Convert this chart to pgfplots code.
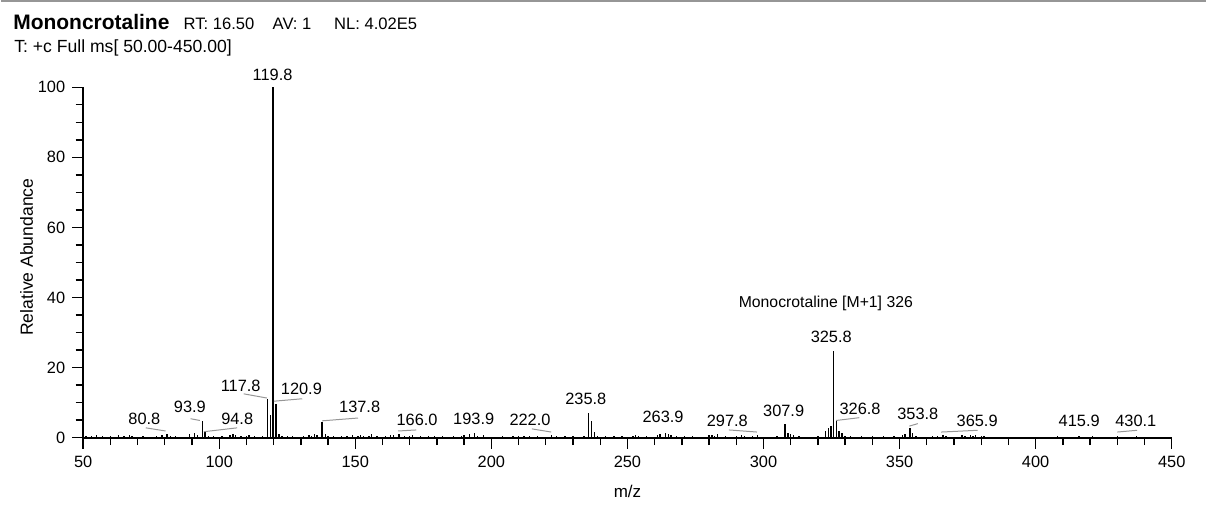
\documentclass[border=0pt]{standalone}
\usepackage{fontspec}
\setmainfont{Liberation Sans}
\usepackage{pgfplots}
\pgfplotsset{compat=1.18}

\definecolor{leader}{RGB}{150,150,150}
\tikzset{
    lbl/.style={font=\fontsize{8.2}{10}\selectfont, inner sep=0pt},
    ldr/.style={leader, line width=0.5pt},
}

\begin{document}
\begin{tikzpicture}
\begin{axis}[
    x=1.363pt, y=1.755pt,
    xmin=50, xmax=450, ymin=0, ymax=100,
    axis x line=bottom, axis y line=left,
    axis line style={-, line width=1pt},
    tick align=outside,
    xtick={50,100,...,450}, minor x tick num=4,
    ytick={0,20,...,100}, minor y tick num=3,
    major tick length=5.5pt, minor tick length=3.8pt,
    tick style={black, line width=0.7pt},
    ticklabel style={font=\fontsize{8.2}{10}\selectfont},
    /pgf/number format/assume math mode=true,
    xlabel={m/z}, ylabel={Relative Abundance},
    xlabel style={at={(axis description cs:0.5,-0.153)}, anchor=center, font=\fontsize{8.5}{10}\selectfont},
    ylabel style={at={(axis description cs:-0.052,0.515)}, anchor=center, font=\fontsize{8.8}{10}\selectfont},
    clip=false,
]

% spectrum (m/z, relative abundance)
\addplot[ycomb, black, line width=0.7pt, mark=none] coordinates {
(51,0.6)(53,0.5)(55,0.8)(57,0.5)(60,0.4)(63,0.7)(65,0.5)(67,0.8)(68,0.6)(72,0.4)
(77,0.5)(79,0.7)(80.8,1.0)(82,0.6)(84,0.5)(89,0.9)(91,1.2)(92,0.8)(93.9,4.7)(94.8,1.5)
(96,0.6)(98,0.5)(101,0.4)(104,0.8)(105,1.0)(106,0.7)(108,0.6)(110,0.5)(111,0.8)(113,0.4)
(116,0.6)(117.8,10.9)(118.8,6.6)(119.8,100)(120.9,9.7)(122,1.0)(123,0.6)(125,0.5)(127,0.6)
(131,0.5)(133,0.8)(134,0.6)(135,1.0)(136,0.7)(137.8,4.6)(139,1.0)(140,0.6)(142,0.5)
(145,0.5)(147,0.6)(149,0.7)(151,0.5)(152,0.8)(153,0.6)(155,0.6)(156,0.9)(158,0.5)
(161,0.4)(163,0.7)(164,0.8)(166,1.0)(168,0.6)(170,0.5)(171,0.8)(174,0.5)(177,0.5)
(179,0.6)(182,0.4)(186,0.6)(189,0.5)(190,0.8)(192,1.0)(193.9,1.3)(195,0.6)(197,0.7)
(204,0.5)(208,0.4)(210,0.5)(212,0.6)(214,0.5)(217,0.5)(222,0.7)(224,0.5)(227,0.5)
(230,0.4)(234,0.6)(235.8,7.1)(236.8,4.7)(237.8,1.5)(239,0.6)(242,0.4)(245,0.4)(248,0.5)
(252,0.6)(253,0.8)(254,0.6)(257,0.4)(261,0.8)(262,1.0)(263.9,1.2)(265,0.9)(266,0.7)
(268,0.6)(271,0.4)(274,0.4)(280,0.7)(281,0.8)(282,0.6)(283,0.9)(286,0.5)(290,0.6)
(292,0.7)(293,0.5)(296,0.6)(297.8,0.8)(305,0.5)(307.9,3.8)(309,1.3)(310,0.9)(311,0.7)
(313,0.5)(320,0.5)(322.8,1.9)(323.8,2.7)(324.8,3.3)(325.8,24.7)(326.8,4.7)(327.8,1.9)
(328.8,1.2)(330,0.5)(332,0.6)(336,0.5)(340,0.4)(344,0.5)(348,0.6)(351,0.8)(352,1.0)
(353.8,2.8)(354.8,1.2)(356,0.6)(362,0.5)(364,0.6)(365.9,0.8)(367,0.6)(373,0.8)(374,0.6)
(376,0.7)(377,0.6)(378,0.7)(380,0.5)(381,0.6)(408,0.4)(416,0.5)(421,0.4)(430.1,0.5)(437,0.4)
};

% peak labels
\node[lbl] at (axis cs:119.6,103.4) {119.8};
\node[lbl] at (axis cs:107.9,14.9) {117.8};
\node[lbl] at (axis cs:130.2,13.8) {120.9};
\node[lbl] at (axis cs:89.2,8.9) {93.9};
\node[lbl] at (axis cs:72.5,5.5) {80.8};
\node[lbl] at (axis cs:106.6,5.5) {94.8};
\node[lbl] at (axis cs:151.6,8.9) {137.8};
\node[lbl] at (axis cs:172.7,5.0) {166.0};
\node[lbl] at (axis cs:193.5,5.4) {193.9};
\node[lbl] at (axis cs:214.2,5.0) {222.0};
\node[lbl] at (axis cs:234.7,11.1) {235.8};
\node[lbl] at (axis cs:263.1,5.8) {263.9};
\node[lbl] at (axis cs:286.7,4.8) {297.8};
\node[lbl] at (axis cs:307.4,7.7) {307.9};
\node[lbl] at (axis cs:324.9,28.7) {325.8};
\node[lbl] at (axis cs:335.5,8.3) {326.8};
\node[lbl] at (axis cs:356.7,6.9) {353.8};
\node[lbl] at (axis cs:378.5,4.8) {365.9};
\node[lbl] at (axis cs:416.0,4.8) {415.9};
\node[lbl] at (axis cs:436.8,4.8) {430.1};
\node[inner sep=0pt, font=\fontsize{7.9}{9}\selectfont] at (axis cs:322.9,38.4) {Monocrotaline [M+1] 326};

% leader lines
\draw[ldr] (axis cs:73,2.8) -- (axis cs:80.3,1.9);
\draw[ldr] (axis cs:89.5,5.4) -- (axis cs:92.9,4.9);
\draw[ldr] (axis cs:94.4,1.7) -- (axis cs:106.6,2.8);
\draw[ldr] (axis cs:109,12.5) -- (axis cs:117.6,11.3);
\draw[ldr] (axis cs:120.1,10.4) -- (axis cs:130.5,11.1);
\draw[ldr] (axis cs:137.8,4.8) -- (axis cs:151,5.6);
\draw[ldr] (axis cs:165.7,1.9) -- (axis cs:172.4,2.2);
\draw[ldr] (axis cs:214.9,2.5) -- (axis cs:222,1.6);
\draw[ldr] (axis cs:287.3,2.2) -- (axis cs:297.6,1.6);
\draw[ldr] (axis cs:326.7,4.9) -- (axis cs:335.2,5.7);
\draw[ldr] (axis cs:353.6,3.3) -- (axis cs:356.7,4.0);
\draw[ldr] (axis cs:365.3,1.6) -- (axis cs:378.7,2.1);
\draw[ldr] (axis cs:430,1.6) -- (axis cs:437.3,2.1);

% header
\node[anchor=base west, inner sep=0pt, font=\bfseries\fontsize{10.5}{12}\selectfont] at (axis cs:24.2,116.6) {Mononcrotaline};
\node[anchor=base west, inner sep=0pt, font=\fontsize{8.3}{10}\selectfont] at (axis cs:86.8,116.6) {RT: 16.50};
\node[anchor=base west, inner sep=0pt, font=\fontsize{8.3}{10}\selectfont] at (axis cs:119.5,116.6) {AV: 1};
\node[anchor=base west, inner sep=0pt, font=\fontsize{8.3}{10}\selectfont] at (axis cs:142.1,116.6) {NL: 4.02E5};
\node[anchor=base west, inner sep=0pt, font=\fontsize{8.8}{10}\selectfont] at (axis cs:24.6,109.9) {T: +c Full ms[ 50.00-450.00]};

\draw[leader, line width=1pt] (axis cs:19.81,124.6) -- (axis cs:462.6,124.6);
\coordinate (bbsw) at (axis cs:19.81,-17.86);
\coordinate (bbne) at (axis cs:462.6,124.9);
\end{axis}
\useasboundingbox (bbsw) rectangle (bbne);
\end{tikzpicture}
\end{document}
